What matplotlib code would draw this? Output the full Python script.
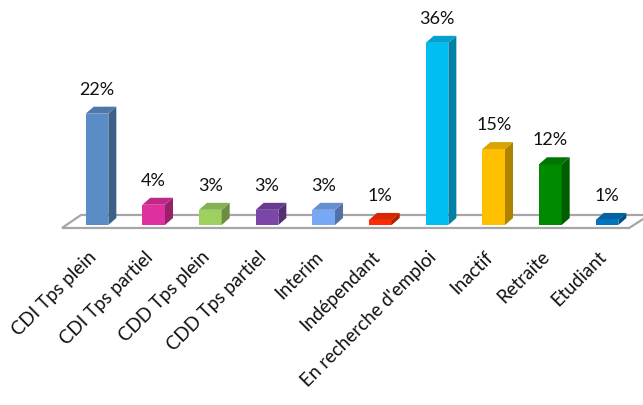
import matplotlib
matplotlib.use("Agg")
import matplotlib.pyplot as plt
from matplotlib.patches import Polygon
import matplotlib.colors as mcolors
import numpy as np

categories = ["CDI Tps plein", "CDI Tps partiel", "CDD Tps plein", "CDD Tps partiel",
              "Interim", "Indépendant", "En recherche d'emploi", "Inactif",
              "Retraite", "Etudiant"]
values = [22, 4, 3, 3, 3, 1, 36, 15, 12, 1]
labels = ["22%", "4%", "3%", "3%", "3%", "1%", "36%", "15%", "12%", "1%"]
front_colors = ["#5A8DC6", "#E0309F", "#9ED060", "#7C45A8", "#78A8F4",
                "#FF2B00", "#00BEF2", "#FFC000", "#008A00", "#0074C1"]

plt.rcParams['font.family'] = ['Lato', 'DejaVu Sans']

W, H = 643, 405
fig = plt.figure(figsize=(W / 100, H / 100), dpi=100)

# axes geometry (pixels): category 0 at x=97, step 56.67 ; y=0 at 225 from top, 5.06 px per %
step = 56.67
ppu = 5.06
x0 = 97
xmin, xmax = -1.0, 9.6
ymin, ymax = -5.0, 40.0
left_px = x0 + xmin * step
width_px = (xmax - xmin) * step
bottom_px = (H - 225) + ymin * ppu
height_px = (ymax - ymin) * ppu
ax = fig.add_axes([left_px / W, bottom_px / H, width_px / W, height_px / H])
ax.set_xlim(xmin, xmax)
ax.set_ylim(ymin, ymax)
ax.axis('off')

DX = 8 / step      # depth offset in x units
DY = 7 / ppu       # depth offset in y units
bw = 0.40

# floor slab
floor = Polygon([(-0.618, -0.59), (-0.282, 1.98), (9.75, 1.98), (9.39, -0.59)],
                closed=True, facecolor="white", edgecolor="#A6A6A6",
                linewidth=1.6, zorder=1, clip_on=False)
ax.add_patch(floor)

def shade(c, f):
    r, g, b = mcolors.to_rgb(c)
    return (r * f, g * f, b * f)

xs = np.arange(len(values))
bars = ax.bar(xs, values, width=bw, color=front_colors, zorder=3, linewidth=0)
for i, (b, v, c) in enumerate(zip(bars, values, front_colors)):
    xl = b.get_x()
    xr = xl + b.get_width()
    top = b.get_height()
    side = Polygon([(xr, 0), (xr + DX, DY), (xr + DX, top + DY), (xr, top)],
                   closed=True, facecolor=shade(c, 0.68), edgecolor='none', zorder=3)
    topf = Polygon([(xl, top), (xl + DX, top + DY), (xr + DX, top + DY), (xr, top)],
                   closed=True, facecolor=shade(c, 0.85), edgecolor='none', zorder=3)
    ax.add_patch(side)
    ax.add_patch(topf)
    ax.annotate(labels[i], (i, top + DY), xytext=(0, 8.5), textcoords='offset points',
                ha='center', va='baseline', fontsize=13, color='#111111',
                annotation_clip=False)
    ax.text(i - 0.17, ymin + 0.4, categories[i], rotation=45, rotation_mode='anchor',
            ha='right', va='top', fontsize=13.5, color='#111111')

fig.savefig("out.png", dpi=100)
